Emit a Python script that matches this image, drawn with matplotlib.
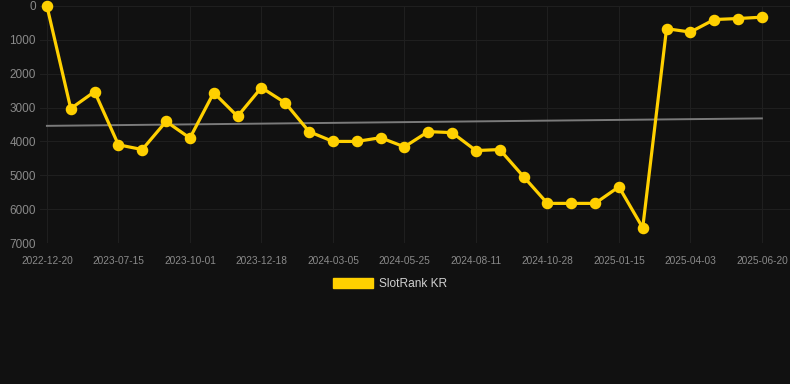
import matplotlib
matplotlib.use("Agg")
import matplotlib.pyplot as plt
import matplotlib.patches as mpatches

# tick dates (every third point is labelled)
tick_dates = ['2022-12-20', '2023-07-15', '2023-10-01', '2023-12-18', '2024-03-05',
              '2024-05-25', '2024-08-11', '2024-10-28', '2025-01-15', '2025-04-03',
              '2025-06-20']

# rank values, one per point
ranks = [0, 3030, 2530, 4100, 4240, 3410, 3900, 2560, 3260, 2410,
         2860, 3710, 4000, 4000, 3890, 4160, 3710, 3740, 4270, 4240,
         5040, 5830, 5830, 5830, 5340, 6550, 670, 770, 400, 370, 330]

# trend line end values
trend_ends = [3540, 3320]

BG = '#111111'
GOLD = '#FFD000'

plt.rcParams['font.family'] = ['Liberation Sans', 'DejaVu Sans']

fig = plt.figure(figsize=(7.9, 3.84), dpi=100, facecolor=BG)
ax = fig.add_axes([40 / 790, 1 - 243 / 384, 750 / 790, 237 / 384])
ax.set_facecolor(BG)

x = list(range(len(ranks)))
ax.plot([x[0], x[-1]], trend_ends, color='#7a7a7a', lw=1.4, zorder=2)
ax.plot(x, ranks, color=GOLD, lw=2.3, marker='o', ms=7.3,
        markerfacecolor=GOLD, markeredgecolor=GOLD, zorder=3, clip_on=False)

ax.set_ylim(7000, 0)
ax.set_xlim(-0.29, 31.18)
ax.set_yticks(range(0, 7001, 1000))
ax.set_xticks(x[::3])
ax.set_xticklabels(tick_dates)

ax.grid(True, color='#1f1f1f', lw=0.8)
ax.set_axisbelow(True)
for s in ax.spines.values():
    s.set_visible(False)
ax.tick_params(axis='y', length=0, pad=3, labelsize=8.5, labelcolor='#8a8a8a')
ax.tick_params(axis='x', length=0, pad=9, labelsize=7.3, labelcolor='#8a8a8a')

handle = mpatches.Patch(color=GOLD, label='SlotRank KR')
fig.legend(handles=[handle], loc='center', bbox_to_anchor=(390 / 790, 1 - 284 / 384),
           frameon=False, fontsize=8.6, labelcolor='#d0d0d0',
           handlelength=3.35, handleheight=0.95, handletextpad=0.5)

fig.savefig('out.png', dpi=100, facecolor=BG)
